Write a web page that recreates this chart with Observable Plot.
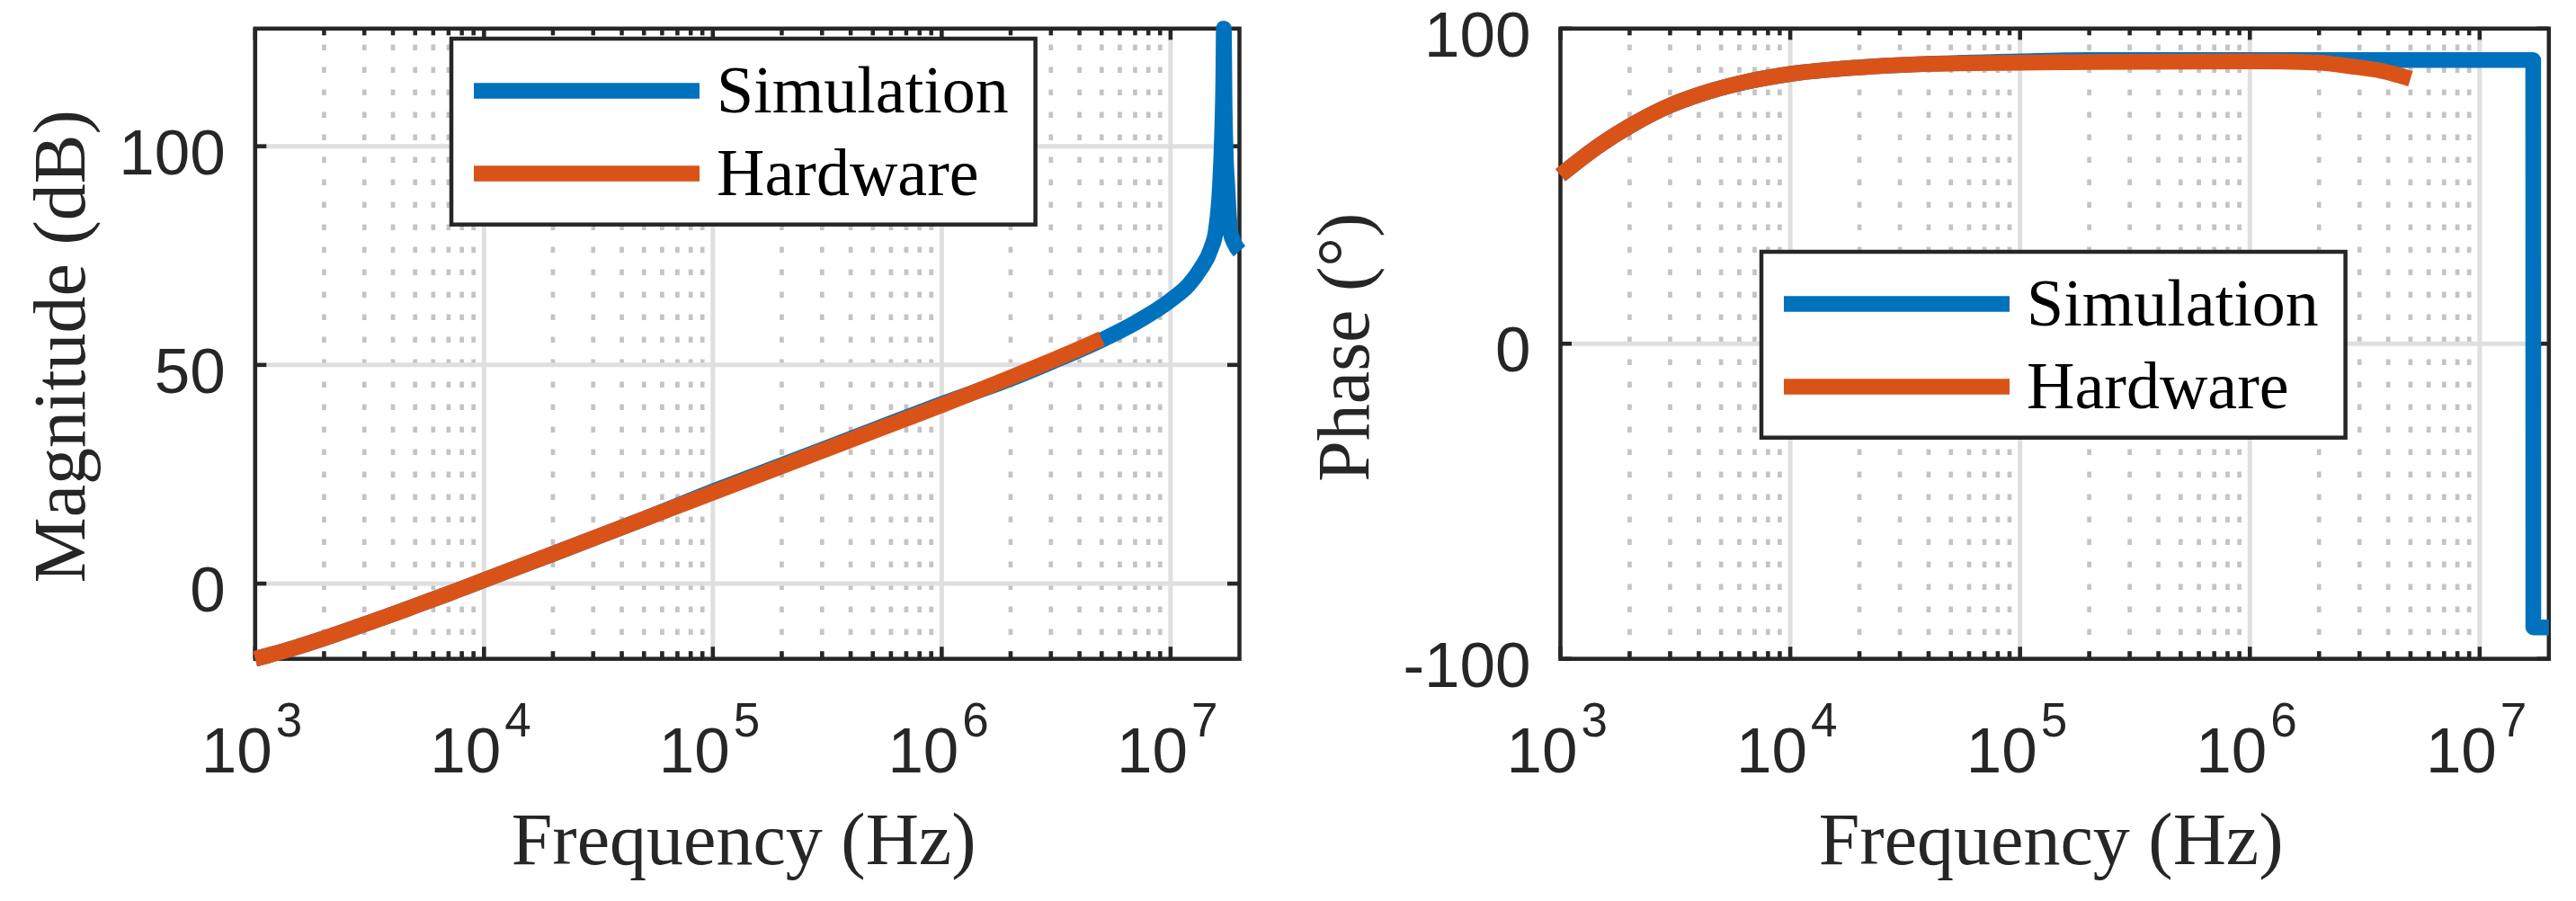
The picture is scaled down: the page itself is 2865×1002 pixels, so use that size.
<!DOCTYPE html>
<html>
<head>
<meta charset="utf-8">
<script src="https://cdn.jsdelivr.net/npm/d3@7"></script>
<script src="https://cdn.jsdelivr.net/npm/@observablehq/plot@0.6"></script>
<style>
  html, body { margin: 0; padding: 0; background: #fff; }
  #fig { position: relative; width: 2865px; height: 1002px; overflow: hidden; background: #fff; }
  #fig > div { position: absolute; top: 0; }
</style>
</head>
<body>
<div id="fig"></div>
<script>
// decade ticks of the frequency axis and their exponents
const decades = [1e3, 1e4, 1e5, 1e6, 1e7]
const exponents = ["3", "4", "5", "6", "7"]
const minorTicks = decades.flatMap(d => [2, 3, 4, 5, 6, 7, 8, 9].map(k => k * d)).filter(f => f < 2e7)

const seriesNames = ["Simulation", "Hardware"]
const seriesColors = ["#0072BD", "#D95319"]

// magnitude (dB)
const magSimF = [1e3, 1.5e3, 2e3, 3e3, 4e3, 5e3, 7e3, 1e4, 2e4, 5e4, 1e5, 2e5, 5e5, 1e6, 2e6, 3e6, 5e6, 7e6, 1e7, 1.2e7, 1.35e7, 1.5e7, 1.58e7, 1.64e7, 1.68e7, 1.7e7, 1.71e7, 1.72e7, 1.74e7, 1.77e7, 1.8e7, 1.82e7, 1.9e7, 2e7]
const magSimV = [-17.2, -14.6, -12.5, -9.3, -7.0, -5.1, -2.3, 0.8, 6.8, 14.8, 21.1, 27.1, 35.1, 41.1, 46.8, 50.6, 55.7, 59.6, 64.8, 68.3, 71.9, 76.5, 81, 90, 103, 115, 126.9, 112, 99, 91, 84, 80.8, 77.8, 76]
const magHwF = [1e3, 1.5e3, 2e3, 3e3, 4e3, 5e3, 7e3, 1e4, 2e4, 5e4, 1e5, 2e5, 5e5, 1e6, 2e6, 3e6, 4e6, 5e6]
const magHwV = [-17.2, -14.6, -12.5, -9.3, -7.0, -5.1, -2.3, 0.8, 6.8, 14.8, 20.8, 26.8, 34.8, 40.8, 47.1, 50.9, 53.7, 56.0]

// phase (degrees)
const phSimF = [1e3, 1.5e3, 2e3, 3e3, 4e3, 6e3, 1e4, 2e4, 4e4, 1e5, 2e5, 1e6, 1e7, 1.71e7, 1.712e7, 2e7]
const phSimV = [53.5, 63.3, 69.0, 75.6, 79.0, 82.6, 85.6, 87.7, 88.8, 89.6, 90, 90, 90, 90, -90, -90]
const phHwF = [1e3, 1.5e3, 2e3, 3e3, 4e3, 6e3, 1e4, 2e4, 4e4, 1e5, 2e5, 1e6, 2e6, 2.7e6, 3.8e6, 5e6]
const phHwV = [53.5, 63.3, 69.0, 75.6, 79.0, 82.6, 85.6, 87.7, 88.8, 89.2, 89.4, 89.6, 89.2, 88.1, 86.5, 84.1]

const magTicks = [0, 50, 100]
const phTicks = [-100, 0, 100]

const ink = "#262626"
const sans = "'Liberation Sans', Arial, Helvetica, sans-serif"
const serif = "'Liberation Serif', 'Times New Roman', Times, serif"
const H = 1002, MT = 31.3, MB = 269.8

const rows = (F, V) => F.map((f, i) => ({f, v: V[i]}))

function panel({left, width, marginLeft, marginRight, yDomain, yTicks, yLabel, yLabelDx, yLabelDy, sim, hw}) {
  const frameW = width - marginLeft - marginRight
  const frameH = H - MT - MB
  const all = [...sim, ...hw]
  const tick = {stroke: ink, strokeWidth: 4.5}
  const line = {x: "f", y: "v", strokeWidth: 17.5, curve: "monotone-x", strokeLinejoin: "round", strokeLinecap: "butt"}
  const chart = Plot.plot({
    width, height: H, marginLeft, marginRight, marginTop: MT, marginBottom: MB,
    x: {type: "log", domain: d3.extent(all, d => d.f), axis: null},
    y: {domain: yDomain, axis: null},
    style: {fontFamily: sans, color: ink, background: "white", overflow: "visible"},
    marks: [
      // grid
      Plot.ruleX(minorTicks, {stroke: "#c4c4c4", strokeWidth: 4.7, strokeDasharray: "6.6,18.4", strokeDashoffset: 6.8}),
      Plot.ruleX(decades, {stroke: "#dfdfdf", strokeWidth: 5}),
      Plot.ruleY(yTicks, {stroke: "#dfdfdf", strokeWidth: 5}),
      Plot.frame({stroke: ink, strokeWidth: 4.5}),
      // inward ticks on all four sides
      Plot.ruleX(decades, {...tick, insetTop: frameH - 13}),
      Plot.ruleX(decades, {...tick, insetBottom: frameH - 13}),
      Plot.ruleX(minorTicks, {...tick, insetTop: frameH - 8}),
      Plot.ruleX(minorTicks, {...tick, insetBottom: frameH - 8}),
      Plot.ruleY(yTicks, {...tick, insetRight: frameW - 13}),
      Plot.ruleY(yTicks, {...tick, insetLeft: frameW - 13}),
      // tick labels
      Plot.text(yTicks, {y: d => d, frameAnchor: "left", text: d => String(d), textAnchor: "end", lineAnchor: "bottom", dx: -33, dy: 31, fontSize: 71}),
      Plot.text(decades, {x: d => d, frameAnchor: "bottom", text: () => "10", textAnchor: "end", lineAnchor: "bottom", dx: 19, dy: 126, fontSize: 71}),
      Plot.text(decades, {x: d => d, frameAnchor: "bottom", text: (d, i) => exponents[i], textAnchor: "start", lineAnchor: "bottom", dx: 23, dy: 86, fontSize: 53}),
      // axis titles
      Plot.text(["Frequency (Hz)"], {text: d => d, frameAnchor: "bottom", textAnchor: "middle", lineAnchor: "bottom", dx: -4, dy: 228, fontFamily: serif, fontSize: 82}),
      Plot.text([yLabel], {text: d => d, frameAnchor: "left", rotate: -90, textAnchor: "middle", lineAnchor: "bottom", dx: yLabelDx, dy: yLabelDy, fontFamily: serif, fontSize: 82}),
      // data
      Plot.line(sim, {...line, stroke: seriesColors[0]}),
      Plot.line(hw, {...line, stroke: seriesColors[1]})
    ]
  })
  const wrap = d3.select("#fig").append("div").style("left", left + "px").style("width", width + "px")
  wrap.append(() => chart)
}

function legend(x, y) {
  const w = 649.6, h = 206.7, pad = 10
  const svg = d3.select("#fig").append("div")
    .style("left", (x - pad) + "px").style("top", (y - pad) + "px")
    .append("svg").attr("width", w + 2 * pad).attr("height", h + 2 * pad)
  const g = svg.append("g").attr("transform", `translate(${pad},${pad})`)
  g.append("rect").attr("width", w).attr("height", h).attr("fill", "white").attr("stroke", ink).attr("stroke-width", 4.5)
  seriesNames.forEach((name, i) => {
    g.append("line").attr("x1", 25).attr("x2", 276).attr("y1", 58 + 92 * i).attr("y2", 58 + 92 * i)
      .attr("stroke", seriesColors[i]).attr("stroke-width", 17.5)
    g.append("text").attr("x", 295).attr("y", 82 + 92 * i).text(name)
      .attr("font-family", serif).attr("font-size", 74).attr("fill", "#000")
  })
}

const magAll = [...magSimV, ...magHwV]
panel({left: 0, width: 1432, marginLeft: 283.3, marginRight: 54, yDomain: d3.extent(magAll), yTicks: magTicks,
  yLabel: "Magnitude (dB)", yLabelDx: -190, yLabelDy: 3, sim: rows(magSimF, magSimV), hw: rows(magHwF, magHwV)})
panel({left: 1432, width: 1433, marginLeft: 303, marginRight: 30.7, yDomain: [-100, 100], yTicks: phTicks,
  yLabel: "Phase (°)", yLabelDx: -213.5, yLabelDy: 4, sim: rows(phSimF, phSimV), hw: rows(phHwF, phHwV)})
legend(502.3, 43.3)
legend(1959, 279.5)
</script>
</body>
</html>
